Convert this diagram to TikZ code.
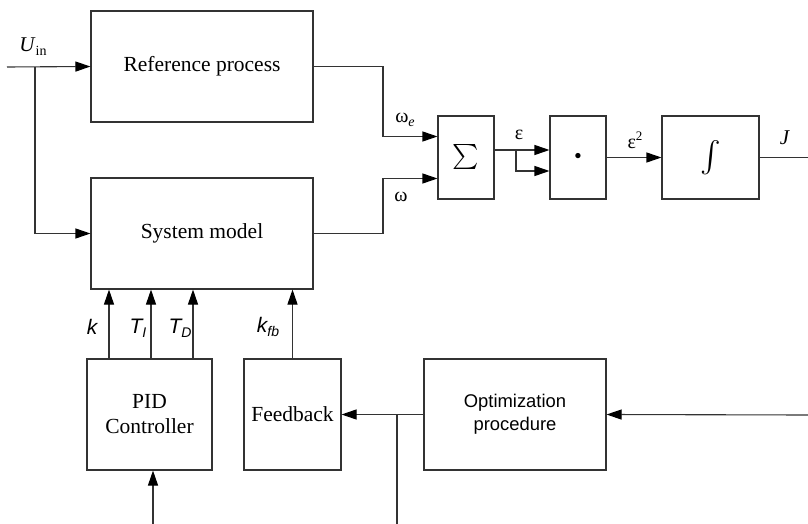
\documentclass[tikz,border=0pt]{standalone}
\usepackage{fontspec}
\usepackage{graphicx}
\setmainfont{Liberation Serif}
\setsansfont{Liberation Sans}
\usetikzlibrary{arrows.meta}
\definecolor{linec}{HTML}{333333}
\newcommand{\lowsub}[1]{\raisebox{-0.4ex}{\fontsize{14}{14}\selectfont #1}}
\newcommand{\upsup}[1]{\raisebox{0.85ex}{\fontsize{13}{13}\selectfont #1}}
\begin{document}
\begin{tikzpicture}[x=1pt,y=-1pt,
  box/.style={draw=linec,line width=1.1pt,inner sep=0pt,align=center,
    font=\fontsize{21.5}{25}\selectfont},
  sbox/.style={box,font=\sffamily\fontsize{18.4}{23}\selectfont},
  ln/.style={draw=linec,line width=1.1pt},
  arr/.style={ln,-{Triangle[length=15pt,width=10pt,color=black]}},
  lab/.style={inner sep=0pt,font=\fontsize{21}{24}\selectfont},
  glab/.style={inner sep=0pt,font=\fontsize{20}{24}\selectfont},
  slab/.style={inner sep=0pt,font=\sffamily\itshape\fontsize{21}{24}\selectfont}]
\useasboundingbox (0,0) rectangle (808,524);

% blocks
\node[box,minimum width=222pt,minimum height=111pt] (ref) at (202,66.5) {Reference process};
\node[box,minimum width=222pt,minimum height=111pt] (sys) at (202,233.5) {System model};
\node[box,minimum width=56pt,minimum height=83pt] (sum) at (466,157.5) {\scalebox{2.5}{$\sum$}};
\node[box,minimum width=56pt,minimum height=83pt] (mul) at (578,157.5) {\scalebox{2.4}{$\cdot$}};
\node[box,minimum width=97pt,minimum height=83pt] (int) at (710.5,157.5) {\scalebox{3.1}{$\int$}};
\node[box,minimum width=125pt,minimum height=111pt] (pid) at (149.5,414.5) {PID\\Controller};
\node[box,minimum width=97pt,minimum height=111pt] (fb) at (292.5,414.5) {Feedback};
\node[sbox,minimum width=182pt,minimum height=111pt] (opt) at (515,414.5) {Optimization\\procedure};

% free ends and bends
\coordinate (uin) at (7,67);
\coordinate (ubr) at (35,67);
\coordinate (jend) at (808,157.5);
\coordinate (optin) at (808,415);
\coordinate (fbbr) at (397,414.5);
\coordinate (fbend) at (397,524);
\coordinate (pidin) at (153,524);
\coordinate (kx) at (109,0);
\coordinate (tix) at (151,0);
\coordinate (tdx) at (193,0);
\coordinate (kfbx) at (292.5,0);
\coordinate (mx) at (383,0);
\coordinate (ex) at (516,0);
\coordinate (sin1) at ([yshift=21pt]sum.west);
\coordinate (sin2) at ([yshift=-21pt]sum.west);
\coordinate (sout) at ([yshift=7.5pt]sum.east);
\coordinate (min1) at ([yshift=7.5pt]mul.west);
\coordinate (min2) at ([yshift=-13.5pt]mul.west);

% top connectors
\draw[arr] (uin) -- (ref.west);
\draw[arr] (ubr) |- (sys.west);
\draw[arr] (ref.east) -| (mx |- sin1) -- (sin1);
\draw[arr] (sys.east) -| (mx |- sin2) -- (sin2);
\draw[arr] (sout) -- (min1);
\draw[arr] (ex |- sout) |- (min2);
\draw[arr] (mul.east) -- (int.west);
\draw[ln] (int.east) -- (jend);

% bottom connectors
\draw[arr] (pid.north -| kx) -- (sys.south -| kx);
\draw[arr] (pid.north -| tix) -- (sys.south -| tix);
\draw[arr] (pid.north -| tdx) -- (sys.south -| tdx);
\draw[arr] (fb.north) -- (sys.south -| kfbx);
\draw[arr] (opt.west) -- (fb.east);
\draw[ln] (fbbr) -- (fbend);
\draw[arr] (optin) -- (opt.east);
\draw[arr] (pidin) -- (pid.south -| pidin);

% labels
\node[lab] (luin) at (33,47) {\textit{U}\lowsub{in}};
\node[glab] (lwe) at (405,120) {ω\lowsub{\textit{e}}};
\node[glab] (lw) at (401,197) {ω};
\node[glab] (leps) at (519,135) {ε};
\node[glab] (leps2) at (635,140) {ε\upsup{2}};
\node[lab] (lj) at (785,138) {\textit{J}};
\node[slab] (lk) at (92,327) {k};
\node[slab] (lti) at (138,328) {T\lowsub{I}};
\node[slab] (ltd) at (180,328) {T\lowsub{D}};
\node[slab] (lkfb) at (268,327) {k\lowsub{fb}};
\end{tikzpicture}
\end{document}
